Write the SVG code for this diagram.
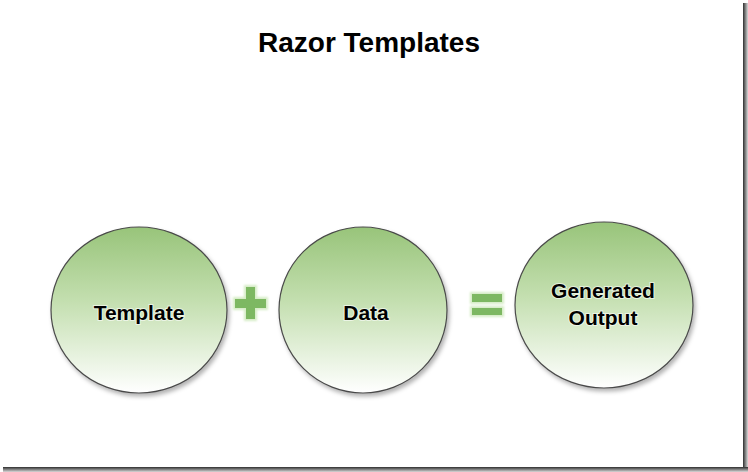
<svg xmlns="http://www.w3.org/2000/svg" width="748" height="472" viewBox="0 0 748 472">
  <defs>
    <linearGradient id="ballFill" x1="0" y1="0" x2="0" y2="1">
      <stop offset="0" stop-color="#98c47a"/>
      <stop offset="0.45" stop-color="#c4dfb0"/>
      <stop offset="1" stop-color="#ffffff"/>
    </linearGradient>
    <linearGradient id="shadowR" x1="0" y1="0" x2="1" y2="0">
      <stop offset="0" stop-color="#2e2e2e"/>
      <stop offset="0.35" stop-color="#6a6a6a"/>
      <stop offset="1" stop-color="#d8d8d8"/>
    </linearGradient>
    <linearGradient id="shadowB" x1="0" y1="0" x2="0" y2="1">
      <stop offset="0" stop-color="#2e2e2e"/>
      <stop offset="0.35" stop-color="#6a6a6a"/>
      <stop offset="1" stop-color="#d8d8d8"/>
    </linearGradient>
    <filter id="ballShadow" x="-10%" y="-10%" width="125%" height="125%">
      <feDropShadow dx="2" dy="3" stdDeviation="2" flood-color="#000" flood-opacity="0.3"/>
    </filter>
    <filter id="glow" x="-30%" y="-30%" width="160%" height="160%">
      <feMorphology in="SourceAlpha" operator="dilate" radius="2" result="d"/>
      <feGaussianBlur in="d" stdDeviation="1" result="b"/>
      <feFlood flood-color="#d6ecc6"/>
      <feComposite in2="b" operator="in" result="g"/>
      <feMerge><feMergeNode in="g"/><feMergeNode in="SourceGraphic"/></feMerge>
    </filter>
  </defs>
  <style>
    .ball { fill: url(#ballFill); stroke: #4a4a4a; stroke-width: 1.2; filter: url(#ballShadow); }
    .label { font-family: "Liberation Sans", Arial, sans-serif; font-weight: bold; font-size: 21px; fill: #000; text-anchor: middle; paint-order: stroke; stroke: #ffffff; stroke-opacity: 0.6; stroke-width: 2px; }
    .title { font-family: "Liberation Sans", Arial, sans-serif; font-weight: bold; font-size: 27px; fill: #000; text-anchor: middle; }
    .op { fill: #7db862; filter: url(#glow); }
  </style>

  <rect x="0" y="0" width="748" height="472" fill="#ffffff"/>
  <rect x="743" y="3" width="5" height="469" fill="url(#shadowR)"/>
  <rect x="3" y="467" width="745" height="5" fill="url(#shadowB)"/>

  <text class="title" x="369" y="52" textLength="222" lengthAdjust="spacingAndGlyphs">Razor Templates</text>

  <g id="node-template">
    <ellipse class="ball" cx="139" cy="310" rx="88" ry="83"/>
    <text class="label" x="139" y="320">Template</text>
  </g>

  <g id="node-data">
    <ellipse class="ball" cx="363" cy="310" rx="84" ry="83"/>
    <text class="label" x="366" y="320">Data</text>
  </g>

  <g id="node-output">
    <ellipse class="ball" cx="604" cy="305" rx="89" ry="83"/>
    <text class="label" x="603" y="298">Generated</text>
    <text class="label" x="603" y="325">Output</text>
  </g>

  <g id="connectors">
    <g id="plus" class="op">
      <rect x="246" y="287" width="9" height="32"/>
      <rect x="235" y="299" width="31" height="9"/>
    </g>
    <g id="equals" class="op">
      <rect x="472" y="294" width="30" height="8"/>
      <rect x="472" y="308" width="30" height="7"/>
    </g>
  </g>
</svg>
